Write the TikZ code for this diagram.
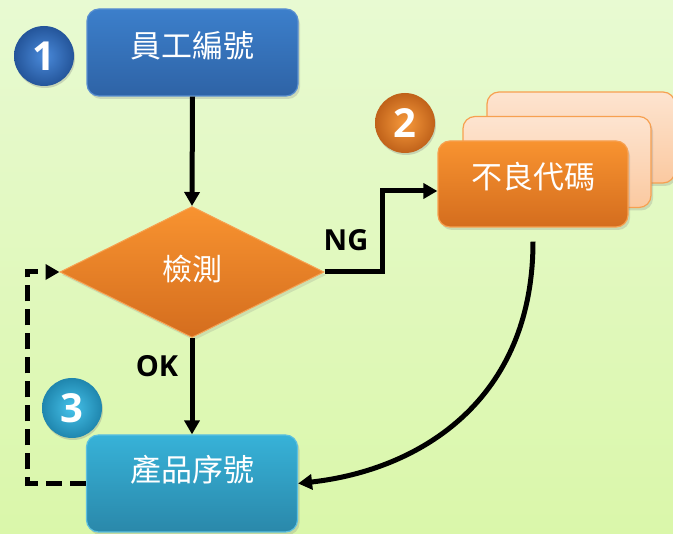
\documentclass[tikz,border=0pt]{standalone}
\usepackage{fontspec}
\setmainfont{Open Sans}
\newfontfamily\cjk{Noto Sans CJK TC}
\newfontfamily\lab{Open Sans}
\usetikzlibrary{shapes.geometric,arrows.meta,shadows,calc}
\definecolor{bgtop}{HTML}{E8FAD2}
\definecolor{bgbot}{HTML}{DAF7AA}
\definecolor{bluetop}{HTML}{3C7FCB}
\definecolor{bluebot}{HTML}{2E63A6}
\definecolor{blueedge}{HTML}{5A8FD0}
\definecolor{orgtop}{HTML}{F89330}
\definecolor{orgbot}{HTML}{D46D1E}
\definecolor{orgedge}{HTML}{F7A050}
\definecolor{peachtop}{HTML}{FDE4D0}
\definecolor{peachbot}{HTML}{FBC9A0}
\definecolor{tealtop}{HTML}{37B2D8}
\definecolor{tealbot}{HTML}{2A88AA}
\definecolor{tealedge}{HTML}{5CC0E0}
\definecolor{b1in}{HTML}{4A8ADA}
\definecolor{b1out}{HTML}{24559A}
\definecolor{b2in}{HTML}{F79A3C}
\definecolor{b2out}{HTML}{C0621A}
\definecolor{b3in}{HTML}{46C2EA}
\definecolor{b3out}{HTML}{1F86AE}
\tikzset{
  boxbase/.style={rounded corners=12pt, minimum width=211pt, minimum height=87pt, inner sep=0pt,
     line width=1.2pt, text=white, font=\cjk\fontsize{31}{34}\selectfont,
     drop shadow={opacity=0.25, shadow xshift=2pt, shadow yshift=-3pt}},
  bluebox/.style={boxbase, draw=blueedge, top color=bluetop, bottom color=bluebot},
  orgbox/.style={boxbase, minimum width=190pt, minimum height=86pt, draw=orgedge, top color=orgtop, bottom color=orgbot},
  peachbox/.style={boxbase, minimum width=188pt, minimum height=91pt, draw=orgedge, top color=peachtop, bottom color=peachbot},
  tealbox/.style={boxbase, minimum height=97pt, draw=tealedge, top color=tealtop, bottom color=tealbot},
  numball/.style={circle, minimum size=60pt, inner sep=0pt, text=white,
     font=\lab\bfseries\fontsize{40}{40}\selectfont,
     drop shadow={opacity=0.3, shadow xshift=1pt, shadow yshift=-2pt}},
  flow/.style={line width=5pt, -{Triangle[length=14pt,width=15pt]}},
  dashflow/.style={line width=5pt, dash pattern=on 16pt off 8pt, -{Triangle[length=14pt,width=15pt]}},
  lbl/.style={font=\lab\bfseries\fontsize{29}{29}\selectfont, text=black}
}
\begin{document}
\begin{tikzpicture}[x=1pt,y=-1pt]
\useasboundingbox (0,0) rectangle (673,534);
\shade[top color=bgtop, bottom color=bgbot] (0,0) rectangle (673,534);

% boxes
\node[bluebox] (emp) at (192.5,52.5) {\raisebox{16pt}{員工編號}};
\node[peachbox] (back2) at (581,137.5) {};
\node[peachbox] (back1) at (557,162) {};
\node[orgbox] (code) at (533,184) {\raisebox{18pt}{不良代碼}};
\node[diamond, minimum width=264pt, minimum height=131pt, inner sep=0pt, aspect=2,
      draw=orgedge, line width=1pt, top color=orgtop, bottom color=orgbot, text=white,
      font=\cjk\fontsize{30}{32}\selectfont,
      drop shadow={opacity=0.2, shadow xshift=2pt, shadow yshift=-3pt}] (chk) at (192,272) {\raisebox{8pt}{檢測}};
\node[tealbox] (prod) at (192,483.5) {\raisebox{30pt}{產品序號}};

% number balls
\node[numball, inner color=b1in, outer color=b1out] (n1) at (44,56) {1};
\node[numball, inner color=b2in, outer color=b2out] (n2) at (405,123) {2};
\node[numball, inner color=b3in, outer color=b3out] (n3) at (72,408) {3};

% labels
\node[lbl] (ng) at (346,240) {NG};
\node[lbl] (ok) at (157,366) {OK};

% connectors
\draw[flow] (emp.south) -- (chk.north);
\draw[flow] (chk.south) -- (prod.north);
\draw[flow] (chk.east) -- ++(58,0) |- ([yshift=-7pt]code.west);
\draw[flow] ([yshift=-14pt]code.south) .. controls (533,400) and (420,470) .. (prod.east);
\draw[dashflow] (prod.west) -- ++(-58,0) |- (chk.west);
\end{tikzpicture}
\end{document}
